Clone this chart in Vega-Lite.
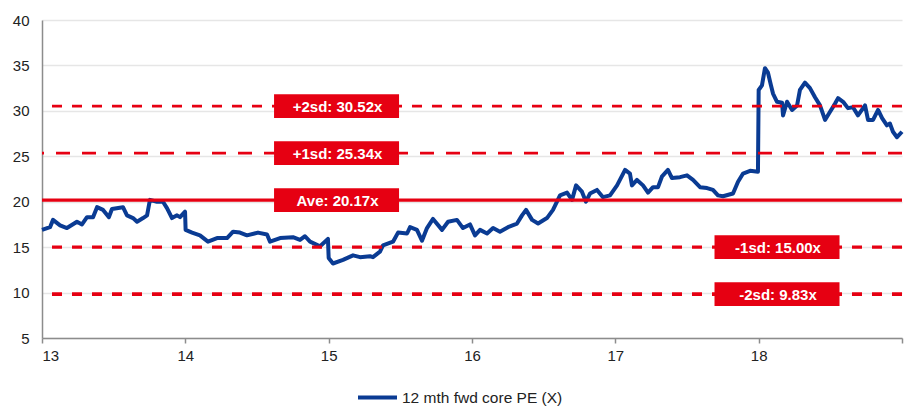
{
  "$schema": "https://vega.github.io/schema/vega-lite/v6.json",
  "width": 860,
  "height": 318,
  "autosize": {"type": "none"},
  "padding": {"left": 42, "top": 20, "right": 12, "bottom": 69},
  "background": "white",
  "config": {
    "view": {"stroke": null},
    "font": "Liberation Sans",
    "axis": {"labelFont": "Liberation Sans", "labelFontSize": 15, "labelColor": "#222222", "title": null}
  },
  "datasets": {
    "pe": [
      {"t": 13.000, "pe": 16.9}, {"t": 13.056, "pe": 17.2}, {"t": 13.077, "pe": 18.0}, {"t": 13.126, "pe": 17.4},
      {"t": 13.174, "pe": 17.1}, {"t": 13.244, "pe": 17.8}, {"t": 13.279, "pe": 17.5}, {"t": 13.314, "pe": 18.3},
      {"t": 13.356, "pe": 18.3}, {"t": 13.384, "pe": 19.4}, {"t": 13.426, "pe": 19.1}, {"t": 13.467, "pe": 18.3},
      {"t": 13.488, "pe": 19.2}, {"t": 13.565, "pe": 19.4}, {"t": 13.593, "pe": 18.5}, {"t": 13.635, "pe": 18.2},
      {"t": 13.663, "pe": 17.8}, {"t": 13.705, "pe": 18.2}, {"t": 13.733, "pe": 18.5}, {"t": 13.753, "pe": 20.2},
      {"t": 13.802, "pe": 20.0}, {"t": 13.844, "pe": 20.0}, {"t": 13.872, "pe": 19.3}, {"t": 13.907, "pe": 18.2},
      {"t": 13.942, "pe": 18.5}, {"t": 13.963, "pe": 18.3}, {"t": 13.998, "pe": 18.9}, {"t": 14.002, "pe": 16.9},
      {"t": 14.047, "pe": 16.6}, {"t": 14.102, "pe": 16.3}, {"t": 14.158, "pe": 15.6}, {"t": 14.221, "pe": 16.0},
      {"t": 14.291, "pe": 16.0}, {"t": 14.333, "pe": 16.7}, {"t": 14.381, "pe": 16.6}, {"t": 14.430, "pe": 16.3},
      {"t": 14.507, "pe": 16.6}, {"t": 14.570, "pe": 16.4}, {"t": 14.591, "pe": 15.6}, {"t": 14.661, "pe": 16.0},
      {"t": 14.751, "pe": 16.1}, {"t": 14.800, "pe": 15.8}, {"t": 14.835, "pe": 16.2}, {"t": 14.870, "pe": 15.6},
      {"t": 14.940, "pe": 15.1}, {"t": 14.995, "pe": 15.9}, {"t": 15.000, "pe": 13.8}, {"t": 15.030, "pe": 13.2},
      {"t": 15.100, "pe": 13.6}, {"t": 15.170, "pe": 14.1}, {"t": 15.219, "pe": 13.9}, {"t": 15.288, "pe": 14.0},
      {"t": 15.309, "pe": 13.9}, {"t": 15.358, "pe": 14.5}, {"t": 15.379, "pe": 15.2}, {"t": 15.449, "pe": 15.6},
      {"t": 15.484, "pe": 16.6}, {"t": 15.547, "pe": 16.5}, {"t": 15.568, "pe": 17.2}, {"t": 15.616, "pe": 16.9},
      {"t": 15.651, "pe": 15.7}, {"t": 15.686, "pe": 17.1}, {"t": 15.728, "pe": 18.1}, {"t": 15.791, "pe": 16.9},
      {"t": 15.833, "pe": 17.8}, {"t": 15.895, "pe": 18.0}, {"t": 15.937, "pe": 17.1}, {"t": 15.986, "pe": 17.5},
      {"t": 16.021, "pe": 16.3}, {"t": 16.056, "pe": 16.9}, {"t": 16.105, "pe": 16.5}, {"t": 16.147, "pe": 17.1},
      {"t": 16.195, "pe": 16.7}, {"t": 16.251, "pe": 17.2}, {"t": 16.314, "pe": 17.6}, {"t": 16.349, "pe": 18.5},
      {"t": 16.377, "pe": 19.1}, {"t": 16.419, "pe": 18.0}, {"t": 16.461, "pe": 17.6}, {"t": 16.523, "pe": 18.2},
      {"t": 16.565, "pe": 19.1}, {"t": 16.614, "pe": 20.7}, {"t": 16.663, "pe": 21.0}, {"t": 16.698, "pe": 20.2},
      {"t": 16.726, "pe": 21.8}, {"t": 16.767, "pe": 21.1}, {"t": 16.795, "pe": 20.0}, {"t": 16.823, "pe": 20.9},
      {"t": 16.872, "pe": 21.3}, {"t": 16.914, "pe": 20.5}, {"t": 16.963, "pe": 20.7}, {"t": 17.012, "pe": 21.8},
      {"t": 17.068, "pe": 23.5}, {"t": 17.102, "pe": 23.1}, {"t": 17.116, "pe": 21.8}, {"t": 17.151, "pe": 22.4},
      {"t": 17.193, "pe": 21.8}, {"t": 17.228, "pe": 21.0}, {"t": 17.263, "pe": 21.6}, {"t": 17.298, "pe": 21.6},
      {"t": 17.326, "pe": 22.8}, {"t": 17.367, "pe": 23.5}, {"t": 17.395, "pe": 22.6}, {"t": 17.451, "pe": 22.7},
      {"t": 17.500, "pe": 22.9}, {"t": 17.542, "pe": 22.4}, {"t": 17.591, "pe": 21.6}, {"t": 17.640, "pe": 21.5},
      {"t": 17.681, "pe": 21.3}, {"t": 17.716, "pe": 20.7}, {"t": 17.751, "pe": 20.6}, {"t": 17.821, "pe": 20.9},
      {"t": 17.856, "pe": 22.2}, {"t": 17.891, "pe": 23.1}, {"t": 17.940, "pe": 23.4}, {"t": 17.995, "pe": 23.3},
      {"t": 18.000, "pe": 32.3}, {"t": 18.023, "pe": 32.8}, {"t": 18.044, "pe": 34.7}, {"t": 18.065, "pe": 34.2},
      {"t": 18.086, "pe": 32.8}, {"t": 18.100, "pe": 31.9}, {"t": 18.128, "pe": 31.0}, {"t": 18.163, "pe": 30.9},
      {"t": 18.170, "pe": 29.5}, {"t": 18.198, "pe": 31.0}, {"t": 18.233, "pe": 30.1}, {"t": 18.268, "pe": 30.6},
      {"t": 18.288, "pe": 32.3}, {"t": 18.323, "pe": 33.1}, {"t": 18.358, "pe": 32.5}, {"t": 18.393, "pe": 31.5},
      {"t": 18.428, "pe": 30.6}, {"t": 18.463, "pe": 29.0}, {"t": 18.498, "pe": 29.9}, {"t": 18.533, "pe": 30.8},
      {"t": 18.554, "pe": 31.4}, {"t": 18.589, "pe": 31.0}, {"t": 18.623, "pe": 30.3}, {"t": 18.658, "pe": 30.4},
      {"t": 18.693, "pe": 29.5}, {"t": 18.742, "pe": 30.6}, {"t": 18.763, "pe": 29.0}, {"t": 18.798, "pe": 29.0},
      {"t": 18.833, "pe": 30.1}, {"t": 18.861, "pe": 29.2}, {"t": 18.895, "pe": 28.4}, {"t": 18.916, "pe": 28.6},
      {"t": 18.937, "pe": 27.7}, {"t": 18.965, "pe": 27.1}, {"t": 19.000, "pe": 27.7}
    ],
    "levels": [
      {"name": "+2sd", "value": 30.52, "label": "+2sd: 30.52x"},
      {"name": "+1sd", "value": 25.34, "label": "+1sd: 25.34x"},
      {"name": "Ave", "value": 20.17, "label": "Ave: 20.17x"},
      {"name": "-1sd", "value": 15.00, "label": "-1sd: 15.00x"},
      {"name": "-2sd", "value": 9.83, "label": "-2sd: 9.83x"}
    ]
  },
  "layer": [
    {
      "data": {"name": "pe"},
      "mark": {"type": "line", "strokeWidth": 4, "strokeJoin": "round"},
      "encoding": {
        "x": {
          "field": "t", "type": "quantitative",
          "scale": {"domain": [13, 19], "nice": false, "zero": false},
          "axis": {
            "values": [13, 14, 15, 16, 17, 18, 19],
            "labelExpr": "datum.value == 19 ? '' : format(datum.value, 'd')",
            "grid": false, "domainColor": "#8c8c8c", "domainWidth": 1.5,
            "tickColor": "#8c8c8c", "tickWidth": 1.5, "tickSize": 5, "labelPadding": 5
          }
        },
        "y": {
          "field": "pe", "type": "quantitative",
          "scale": {"domain": [5, 40], "nice": false, "zero": false},
          "axis": {
            "values": [5, 10, 15, 20, 25, 30, 35, 40],
            "ticks": false, "labelPadding": 13, "grid": true,
            "gridColor": "#e6e6e6", "gridWidth": 1.5,
            "domainColor": "#8c8c8c", "domainWidth": 1.5
          }
        },
        "stroke": {
          "datum": "12 mth fwd core PE (X)",
          "type": "nominal",
          "scale": {"range": ["#0a3b93"]},
          "legend": {
            "orient": "none", "legendX": 314, "legendY": 356, "title": null,
            "symbolType": "stroke", "symbolSize": 1521, "symbolStrokeWidth": 4,
            "symbolStrokeColor": "#0a3b93",
            "labelFontSize": 15.5, "labelColor": "#222222", "labelFont": "Liberation Sans",
            "labelLimit": 400,
            "padding": 0, "labelOffset": 3, "labelBaseline": "middle"
          }
        }
      }
    },
    {
      "data": {"name": "levels"},
      "mark": {"type": "rule", "color": "#E60012"},
      "encoding": {
        "y": {"field": "value", "type": "quantitative", "scale": {"domain": [5, 40], "nice": false, "zero": false}},
        "strokeDash": {
          "field": "name", "type": "ordinal",
          "scale": {"domain": ["+2sd", "+1sd", "Ave", "-1sd", "-2sd"], "range": [[10, 10], [14, 12], [1, 0], [10, 10], [10, 10]]},
          "legend": null
        },
        "strokeWidth": {
          "field": "name", "type": "ordinal",
          "scale": {"domain": ["+2sd", "+1sd", "Ave", "-1sd", "-2sd"], "range": [2.6, 3.6, 3.4, 2.6, 2.6]},
          "legend": null
        }
      }
    },
    {
      "data": {"name": "levels"},
      "transform": [{"filter": "datum.value > 17"}],
      "layer": [
        {
          "mark": {"type": "point", "shape": "M-1,-0.19L1,-0.19L1,0.19L-1,0.19Z", "size": 15625, "filled": true, "fill": "#E60012", "opacity": 1, "strokeWidth": 0},
          "encoding": {
            "x": {"datum": 15.055, "type": "quantitative"},
            "y": {"field": "value", "type": "quantitative"}
          }
        },
        {
          "mark": {"type": "text", "color": "white", "fontWeight": "bold", "fontSize": 15, "font": "Liberation Sans", "align": "center", "baseline": "middle", "dy": 1, "dx": 1},
          "encoding": {
            "x": {"datum": 15.055, "type": "quantitative"},
            "y": {"field": "value", "type": "quantitative"},
            "text": {"field": "label"}
          }
        }
      ]
    },
    {
      "data": {"name": "levels"},
      "transform": [{"filter": "datum.value < 17"}],
      "layer": [
        {
          "mark": {"type": "point", "shape": "M-1,-0.19L1,-0.19L1,0.19L-1,0.19Z", "size": 15625, "filled": true, "fill": "#E60012", "opacity": 1, "strokeWidth": 0},
          "encoding": {
            "x": {"datum": 18.128, "type": "quantitative"},
            "y": {"field": "value", "type": "quantitative"}
          }
        },
        {
          "mark": {"type": "text", "color": "white", "fontWeight": "bold", "fontSize": 15, "font": "Liberation Sans", "align": "center", "baseline": "middle", "dy": 1, "dx": 1},
          "encoding": {
            "x": {"datum": 18.128, "type": "quantitative"},
            "y": {"field": "value", "type": "quantitative"},
            "text": {"field": "label"}
          }
        }
      ]
    }
  ]
}
